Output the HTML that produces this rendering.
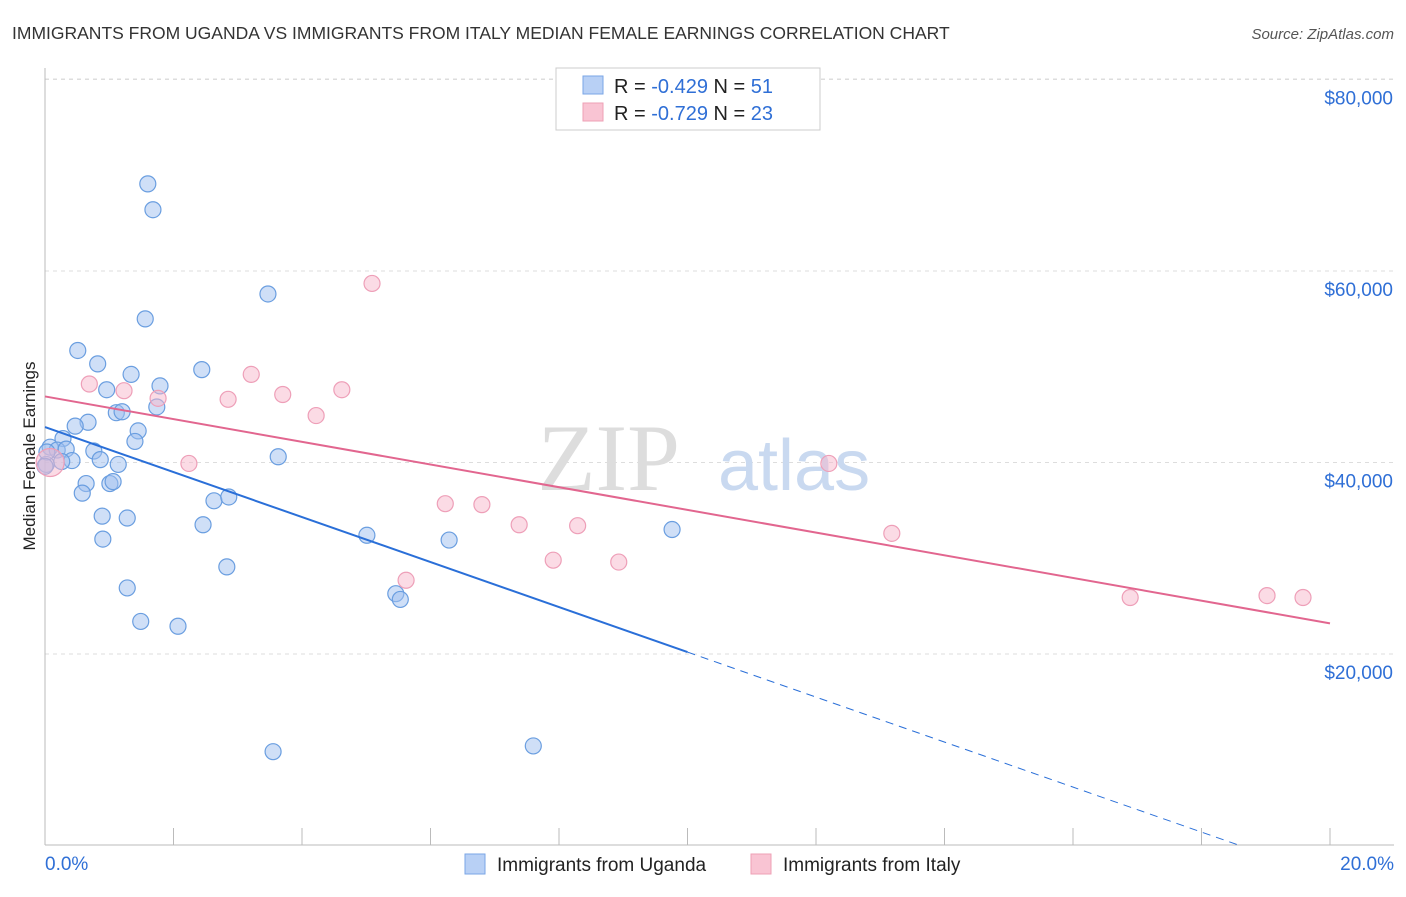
<!DOCTYPE html>
<html><head><meta charset="utf-8"><style>
body{margin:0;background:#fff;font-family:"Liberation Sans",sans-serif;}
</style></head><body>
<svg width="1406" height="892" xmlns="http://www.w3.org/2000/svg">
<text x="12" y="39" font-size="17.5" fill="#333">IMMIGRANTS FROM UGANDA VS IMMIGRANTS FROM ITALY MEDIAN FEMALE EARNINGS CORRELATION CHART</text>
<text x="1394" y="39" font-size="15" fill="#555" font-style="italic" text-anchor="end">Source: ZipAtlas.com</text>
<g id="grid"></g>
<text x="680" y="490" font-size="95" fill="#ddd" text-anchor="end" font-family="Liberation Serif">ZIP</text>
<text x="718" y="490" font-size="72" fill="#c9d9f0">atlas</text>
<text x="35" y="456" font-size="17" fill="#222" text-anchor="middle" transform="rotate(-90 35 456)">Median Female Earnings</text>
<g id="marks"></g>
<g>
<rect x="556" y="68" width="264" height="62" fill="#fff" stroke="#ccc"/>
<rect x="583" y="76" width="20" height="18" fill="#b8d0f5" stroke="#7aa6e6"/>
<rect x="583" y="103" width="20" height="18" fill="#f9c4d3" stroke="#eea0b6"/>
<text x="614" y="93" font-size="20" fill="#222">R = <tspan fill="#2f6fd6">-0.429</tspan>   N = <tspan fill="#2f6fd6">51</tspan></text>
<text x="614" y="120" font-size="20" fill="#222">R = <tspan fill="#2f6fd6">-0.729</tspan>   N = <tspan fill="#2f6fd6">23</tspan></text>
</g>
<g>
<rect x="465" y="854" width="20" height="20" fill="#b8d0f5" stroke="#7aa6e6"/>
<text x="497" y="871" font-size="19" fill="#222">Immigrants from Uganda</text>
<rect x="751" y="854" width="20" height="20" fill="#f9c4d3" stroke="#eea0b6"/>
<text x="783" y="871" font-size="19" fill="#222">Immigrants from Italy</text>
</g>
</svg>
<script>
const yTicks=[20000,40000,60000,80000];
const yTickLabels=["$20,000","$40,000","$60,000","$80,000"];
const xTicks=[0,2,4,6,8,10,12,14,16,18,20];
const ugandaX=[1.6,1.68,3.47,1.56,0.51,0.82,2.44,1.34,1.79,0.96,1.74,1.11,1.2,0.67,0.47,1.45,1.4,0.28,0.08,0.19,0.33,0.76,0.42,0.26,0.02,0.86,1.14,3.63,0.64,1.01,1.06,0.58,2.63,2.86,0.89,1.28,2.46,5.01,6.29,9.76,0.9,2.83,1.28,5.46,5.53,1.49,2.07,3.55,7.6,0.03,0.0];
const ugandaY=[69100,66400,57600,55000,51700,50300,49700,49200,48000,47600,45800,45200,45300,44200,43800,43300,42200,42500,41600,41300,41400,41200,40200,40100,39800,40300,39800,40600,37800,37800,38000,36800,36000,36400,34400,34200,33500,32400,31900,33000,32000,29100,26900,26300,25700,23400,22900,9800,10400,41100,39600];
const italyX=[0.69,1.23,1.76,3.21,2.85,3.7,4.62,5.09,4.22,2.24,6.23,6.8,7.38,8.29,7.91,8.93,5.62,12.2,13.18,16.89,19.02,19.58,0.08];
const italyY=[48200,47500,46700,49200,46600,47100,47600,58700,44900,39900,35700,35600,33500,33400,29800,29600,27700,39900,32600,25900,26100,25900,40000];
const ugFit=[43700,20200]; // at x=0 and x=10
const itFit=[46900,23200]; // at x=0 and x=20
const NS="http://www.w3.org/2000/svg";
const X0=45,X1=1330,YB=845.5;
const sx=v=>X0+(X1-X0)*v/20;
const sy=v=>YB-v*191.5/20000;
function mk(tag,attrs,parent){const e=document.createElementNS(NS,tag);for(const k in attrs)e.setAttribute(k,attrs[k]);parent.appendChild(e);return e;}
const grid=document.getElementById('grid');
const marks=document.getElementById('marks');
yTicks.forEach((t,i)=>{
 const l=mk('line',{x1:X0,x2:1394,y1:sy(t),y2:sy(t),stroke:'#ddd','stroke-dasharray':'4,4'},grid);
 
 
 const tx=mk('text',{x:1393,y:sy(t)+25,'font-size':19,fill:'#2f6fd6','text-anchor':'end'},grid);
 tx.textContent=yTickLabels[i];
 
 
});
const tl=mk('line',{x1:X0,x2:1394,y1:79,y2:79,stroke:'#ddd','stroke-dasharray':'4,4'},grid);


const ax=mk('line',{x1:X0,x2:1394,y1:845,y2:845,stroke:'#bbb'},grid);


const ay=mk('line',{x1:X0,x2:X0,y1:68,y2:845,stroke:'#bbb'},grid);


xTicks.forEach(t=>{
 const l=mk('line',{x1:sx(t),x2:sx(t),y1:828,y2:845,stroke:'#bbb'},grid);
 
 
});
[[0,"0.0%","start",45],[20,"20.0%","end",1394]].forEach(a=>{
 const t=mk('text',{x:a[3],y:870,'font-size':19,fill:'#2f6fd6','text-anchor':a[2]},grid);
 t.textContent=a[1];
 
 
});
ugandaX.forEach((x,i)=>{
 const c=mk('circle',{cx:sx(x),cy:sy(ugandaY[i]),r:8,fill:'rgba(160,192,240,0.5)',stroke:'#6a9ee0','stroke-width':1.2},marks);
 
 
});
italyX.forEach((x,i)=>{
 const c=mk('circle',{cx:sx(x),cy:sy(italyY[i]),r:i==italyX.length-1?14:8,fill:'rgba(247,184,204,0.5)',stroke:'#ee9fb8','stroke-width':1.2},marks);
 
 
});
const slope=(ugFit[1]-ugFit[0])/10;
const ul=mk('line',{x1:sx(0),y1:sy(ugFit[0]),x2:sx(10),y2:sy(ugFit[1]),stroke:'#2a6fd8','stroke-width':2},marks);


const xz=-ugFit[0]/slope;
const ud=mk('line',{x1:sx(10),y1:sy(ugFit[1]),x2:sx(xz),y2:sy(0),stroke:'#2a6fd8','stroke-width':1,'stroke-dasharray':'8,6'},marks);


const il=mk('line',{x1:sx(0),y1:sy(itFit[0]),x2:sx(20),y2:sy(itFit[1]),stroke:'#e2668f','stroke-width':2},marks);


</script>
</body></html>
